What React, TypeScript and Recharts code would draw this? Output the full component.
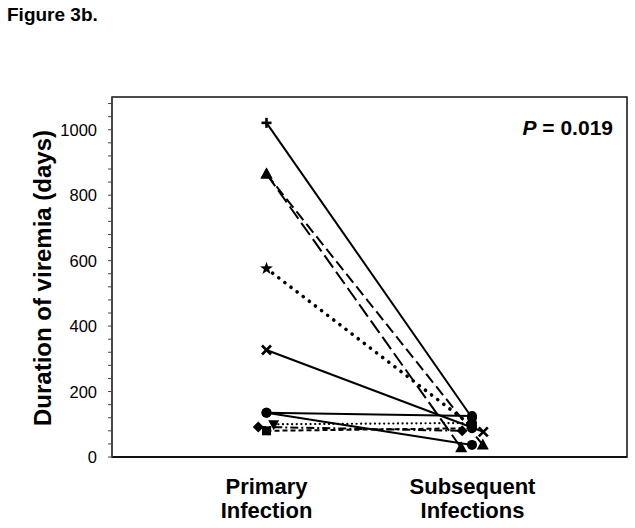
import React from 'react';
import { LineChart, Line, XAxis, YAxis, ReferenceArea } from 'recharts';

// ---- data ----
const categories = ['Primary Infection', 'Subsequent Infections'];
const categoryX = [3, 7];
const subjects = ['plus', 'triA', 'triB', 'star', 'cross', 'circA', 'circB', 'triDown', 'diamond', 'square'];
const primaryDays = [1021, 865, 865, 576, 327, 135, 135, 100, 92, 80];
const subsequentDays = [120, 28, 37, 95, 77, 125, 37, 104, 80, 88];
const primaryX = [3, 3, 3, 3, 3, 3, 3, 3.14, 2.84, 3.0];
const subsequentX = [6.99, 6.78, 7.2, 6.99, 7.21, 6.99, 6.99, 6.99, 6.8, 6.99];
const majorTicks = [0, 200, 400, 600, 800, 1000];
const minorTicks = [0, 40, 80, 120, 160, 200, 240, 280, 320, 360, 400, 440, 480, 520, 560, 600, 640, 680, 720, 760, 800, 840, 880, 920, 960, 1000, 1040, 1080];
const pValue = '0.019';

// ---- styles ----
const FONT = '"Liberation Sans", Arial, Helvetica, sans-serif';
type Style = { dash?: string; width: number; cap?: 'round' | 'butt'; start: string; end: string };
const styles: Record<string, Style> = {
  plus: { width: 2, start: 'plus', end: 'circle' },
  triA: { width: 2, dash: '15 5', start: 'tri', end: 'tri' },
  triB: { width: 2, dash: '11 5', start: 'tri', end: 'tri' },
  star: { width: 3.6, dash: '0.1 7.6', cap: 'round', start: 'star', end: 'circle' },
  cross: { width: 2, start: 'cross', end: 'cross' },
  circA: { width: 2, start: 'circle', end: 'circle' },
  circB: { width: 2, start: 'circle', end: 'circle' },
  triDown: { width: 2.2, dash: '0.1 4.5', cap: 'round', start: 'triDown', end: 'circle' },
  diamond: { width: 2, dash: '8 3 2 3', start: 'diamond', end: 'diamond' },
  square: { width: 2, dash: '5 3', start: 'square', end: 'circle' },
};

function marker(shape: string, cx: number, cy: number) {
  const c = '#000';
  switch (shape) {
    case 'plus':
      return (
        <g stroke={c} strokeWidth={2.6}>
          <line x1={cx - 5} y1={cy} x2={cx + 5} y2={cy} />
          <line x1={cx} y1={cy - 5} x2={cx} y2={cy + 5} />
        </g>
      );
    case 'cross':
      return (
        <g stroke={c} strokeWidth={2.6}>
          <line x1={cx - 4.5} y1={cy - 4.5} x2={cx + 4.5} y2={cy + 4.5} />
          <line x1={cx - 4.5} y1={cy + 4.5} x2={cx + 4.5} y2={cy - 4.5} />
        </g>
      );
    case 'tri':
      return <polygon fill={c} points={`${cx},${cy - 6.5} ${cx - 6},${cy + 4.5} ${cx + 6},${cy + 4.5}`} />;
    case 'triDown':
      return <polygon fill={c} points={`${cx},${cy + 6} ${cx - 5.5},${cy - 4} ${cx + 5.5},${cy - 4}`} />;
    case 'diamond':
      return <polygon fill={c} points={`${cx},${cy - 5.5} ${cx + 5.5},${cy} ${cx},${cy + 5.5} ${cx - 5.5},${cy}`} />;
    case 'square':
      return <rect fill={c} x={cx - 4.5} y={cy - 4.5} width={9} height={9} />;
    case 'star': {
      const pts: string[] = [];
      for (let i = 0; i < 10; i++) {
        const r = i % 2 === 0 ? 6.8 : 2.7;
        const a = -Math.PI / 2 + (i * Math.PI) / 5;
        pts.push(`${cx + r * Math.cos(a)},${cy + r * Math.sin(a)}`);
      }
      return <polygon fill={c} points={pts.join(' ')} />;
    }
    default:
      return <circle fill={c} cx={cx} cy={cy} r={5} />;
  }
}

const seriesData = subjects.map((name, i) => ({
  name,
  data: [
    { x: primaryX[i], y: primaryDays[i] },
    { x: subsequentX[i], y: subsequentDays[i] },
  ],
}));

const YTick = (props: any) => {
  const { y, payload } = props;
  if (!majorTicks.includes(payload.value)) return <g />;
  return (
    <text x={97} y={y} dy={6} textAnchor="end" fontFamily={FONT} fontSize={16.5} fill="#000">
      {payload.value}
    </text>
  );
};

const XTick = (props: any) => {
  const { x, payload } = props;
  const idx = categoryX.indexOf(payload.value);
  const words = (categories[idx] || '').split(' ');
  return (
    <text x={x} textAnchor="middle" fontFamily={FONT} fontSize={22} fontWeight="bold" fill="#000">
      <tspan x={x} y={494}>{words[0]}</tspan>
      <tspan x={x} y={518}>{words[1]}</tspan>
    </text>
  );
};

const YLabel = () => (
  <text
    x={51}
    y={278}
    transform="rotate(-90, 51, 278)"
    textAnchor="middle"
    fontFamily={FONT}
    fontSize={24}
    fontWeight="bold"
    fill="#000"
  >
    Duration of viremia (days)
  </text>
);

export default function App() {
  return (
    <div style={{ position: 'absolute', left: 0, top: 0, width: 635, height: 528, background: '#fff' }}>
      <LineChart width={635} height={528} margin={{ top: 97, right: 8, left: 0, bottom: 0 }}>
        <XAxis
          type="number"
          dataKey="x"
          domain={[0, 10]}
          ticks={categoryX}
          tick={<XTick />}
          tickLine={false}
          height={71}
          axisLine={{ stroke: '#111', strokeWidth: 2 }}
          allowDataOverflow
        />
        <YAxis
          type="number"
          dataKey="y"
          domain={[0, 1100]}
          ticks={minorTicks}
          interval={0}
          tick={<YTick />}
          tickSize={4}
          tickLine={{ stroke: '#444', strokeWidth: 1 }}
          width={112}
          axisLine={{ stroke: '#444', strokeWidth: 1.5 }}
          label={<YLabel />}
          allowDataOverflow
        />
        <ReferenceArea x1={0} x2={10} y1={0} y2={1100} fill="none" stroke="#111" strokeWidth={1.5} />
        {seriesData.map((s) => {
          const st = styles[s.name];
          return (
            <Line
              key={s.name}
              data={s.data}
              dataKey="y"
              name={s.name}
              type="linear"
              stroke="#000"
              strokeWidth={st.width}
              strokeDasharray={st.dash}
              strokeLinecap={st.cap || 'butt'}
              isAnimationActive={false}
              dot={(p: any) => (
                <g key={`${s.name}-${p.index}`}>{marker(p.index === 0 ? st.start : st.end, p.cx, p.cy)}</g>
              )}
              activeDot={false}
            />
          );
        })}
      </LineChart>
      <svg width={635} height={528} style={{ position: 'absolute', left: 0, top: 0, pointerEvents: 'none' }}>
        <text x={7} y={21} fontFamily={FONT} fontSize={19} fontWeight="bold" fill="#000">
          Figure 3b.
        </text>
        <text x={613} y={135} textAnchor="end" fontFamily={FONT} fontSize={21} fontWeight="bold" fill="#000">
          <tspan fontStyle="italic">P</tspan> = {pValue}
        </text>
      </svg>
    </div>
  );
}
